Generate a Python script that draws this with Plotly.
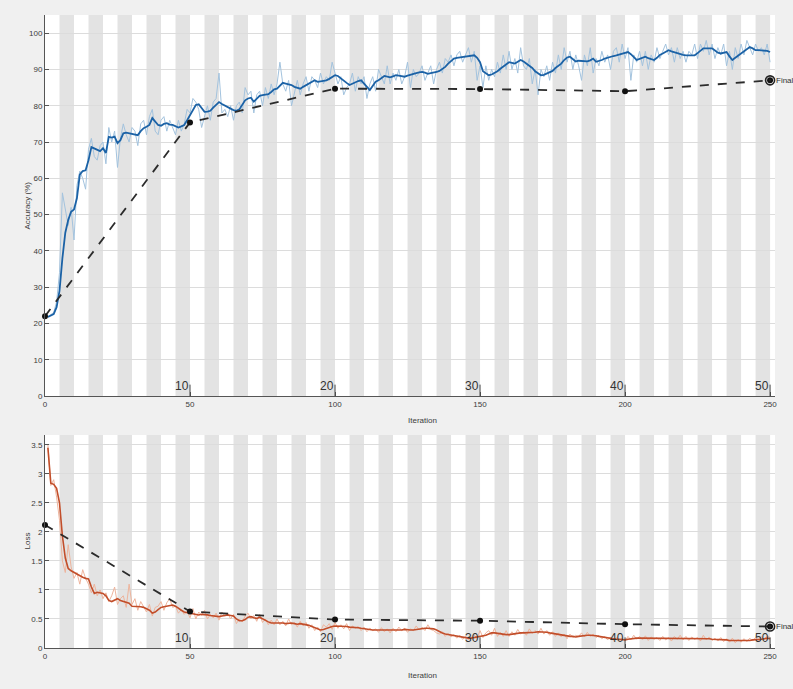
import plotly.graph_objects as go

# ---------------- data ----------------
iterations = list(range(1, 251))

acc_smooth = [
    21.8, 22.3, 22.6, 24.5, 29, 38, 45, 48.5, 50.8, 51.4,
    54.5, 61, 62, 62.2, 65, 68.6, 68.2, 67.7, 67.5, 68.3,
    67, 71.4, 71.2, 71.5, 69.7, 70.5, 72.4, 72.6, 72.4, 72.4,
    72.2, 71.9, 73, 73.8, 74.2, 74.7, 76.6, 75.5, 74.7, 74.5,
    75, 75.2, 74.8, 74.7, 74.4, 74, 74.3, 74.7, 76, 77.4,
    78.5, 80.2, 80.4, 79.2, 78.3, 78.4, 78.6, 79.5, 80.3, 81,
    80.5, 80, 79.7, 79.2, 78.8, 78.6, 79, 80.2, 81.5, 82,
    82.2, 81.1, 81.8, 82.7, 82.9, 83, 83.2, 83.8, 84.5, 84.7,
    85.5, 86.3, 86.1, 85.9, 85.7, 85.2, 84.9, 84.7, 85.2, 85.7,
    86.2, 86.7, 87, 86.6, 86.7, 86.9, 87, 87.4, 87.9, 88.4,
    88.2, 87.5, 87, 86.3, 85.7, 86.1, 86.6, 86.8, 87, 86.2,
    85.2, 84.3, 85.5, 86.6, 87, 87.6, 88.2, 88, 87.8, 88.1,
    88.4, 88.3, 88.1, 88, 88.3, 88.6, 88.8, 89, 89.2, 89.3,
    89.1, 88.8, 89, 89.1, 89.3, 89.6, 90.2, 90.7, 91.6, 92.4,
    93, 93.2, 93.3, 93.4, 93.5, 93.6, 93.7, 93.9, 93.2, 92,
    89.5, 88.9, 88.4, 88.6, 89, 89.5, 90.2, 90.8, 91.4, 92,
    91.8, 91.6, 92.1, 92.6, 92.2, 91.6, 91.2, 90.4, 89.5, 88.9,
    88.4, 88.5, 88.8, 89.2, 89.6, 90.4, 91, 91.6, 92.6, 93.3,
    93.5, 92.9, 92.2, 92.4, 92.3, 92.2, 92.2, 92.5, 93, 92.1,
    92.3, 92.6, 93, 93.3, 93.5, 93.7, 93.9, 94.1, 94.4, 94.6,
    94.8, 94.2, 93.5, 92.6, 92.9, 93.2, 93.5, 93.1, 92.8, 92.6,
    93.2, 94, 94.4, 94.9, 95.3, 95, 94.7, 94.4, 94.2, 94,
    93.9, 93.9, 93.9, 93.9, 94.5, 95.2, 95.8, 95.8, 95.8, 95.8,
    95.2, 94.6, 94.4, 94.6, 94.8, 93.6, 92.6, 93.2, 93.8, 94.4,
    95.2, 95.8, 96.2, 95.8, 95.3, 95.3, 95.3, 95.3, 95.1, 94.8,
]

acc_raw = [
    21.9, 22.5, 23, 26, 34, 56, 52, 47, 52, 43,
    58, 62, 60, 57, 68, 71, 66, 65, 69, 70,
    64, 74, 70, 73, 63, 71, 75, 72, 70, 74,
    73, 69, 75, 76, 72, 77, 79, 73, 72, 76,
    77, 73, 76, 74, 72, 76, 73, 75, 79, 78,
    82, 81, 79, 74, 77, 80, 76, 81, 82, 89,
    78, 79, 77, 80, 76, 80, 81, 78, 85, 83,
    84, 78, 83, 84, 80, 85, 82, 86, 83, 86,
    92, 86, 84, 87, 80, 84, 87, 83, 86, 88,
    84, 88, 87, 85, 89, 86, 88, 87, 92, 89,
    86, 88, 83, 85, 86, 89, 84, 88, 86, 88,
    82, 86, 88, 84, 90, 88, 86, 91, 86, 89,
    87, 90, 86, 88, 92, 85, 90, 88, 89, 91,
    87, 89, 91, 86, 90, 92, 89, 93, 92, 94,
    91, 94, 95, 92, 94, 96, 92, 95, 87, 91,
    85, 91, 87, 90, 88, 92, 89, 94, 90, 95,
    90, 93, 89, 96, 91, 90, 93, 86, 90, 83,
    90, 88, 91, 87, 92, 89, 94, 90, 96, 92,
    95, 90, 94, 91, 87, 94, 91, 96, 89, 93,
    91, 95, 92, 94, 90, 95, 96, 92, 97, 93,
    96, 87, 94, 92, 95, 91, 95, 90, 94, 92,
    96, 93, 95, 97, 94, 96, 92, 96, 93, 95,
    92, 95, 94, 97, 93, 97, 95, 98, 94, 97,
    93, 96, 94, 97, 91, 95, 90, 96, 93, 97,
    94, 98, 96, 94, 97, 95, 96, 94, 97, 92,
]

loss_smooth = [
    3.45, 2.84, 2.82, 2.75, 2.5, 1.93, 1.55, 1.37, 1.33, 1.3,
    1.27, 1.25, 1.22, 1.2, 1.19, 1.05, 0.94, 0.96, 0.95, 0.94,
    0.9, 0.82, 0.8, 0.83, 0.85, 0.82, 0.8, 0.78, 0.77, 0.72,
    0.72, 0.71, 0.71, 0.7, 0.68, 0.65, 0.6, 0.62, 0.66, 0.7,
    0.71, 0.72, 0.73, 0.74, 0.72, 0.68, 0.65, 0.62, 0.61, 0.6,
    0.59, 0.58, 0.57, 0.58, 0.58, 0.57, 0.56, 0.55, 0.55, 0.54,
    0.55, 0.56, 0.57, 0.56, 0.55, 0.5, 0.47, 0.47, 0.49, 0.53,
    0.54, 0.52, 0.51, 0.53, 0.5, 0.47, 0.45, 0.43, 0.43, 0.44,
    0.44, 0.43, 0.42, 0.43, 0.43, 0.42, 0.41, 0.42, 0.41, 0.41,
    0.39, 0.37, 0.35, 0.33, 0.31, 0.32, 0.34, 0.36, 0.37, 0.38,
    0.38, 0.38, 0.37, 0.37, 0.36, 0.36, 0.36, 0.35, 0.34, 0.33,
    0.32, 0.31, 0.31, 0.31, 0.31, 0.31, 0.3, 0.3, 0.3, 0.3,
    0.3, 0.31, 0.31, 0.32, 0.31, 0.31, 0.31, 0.32, 0.33, 0.33,
    0.34, 0.34, 0.34, 0.33, 0.31, 0.28, 0.26, 0.24, 0.23, 0.22,
    0.21, 0.2, 0.19, 0.18, 0.17, 0.17, 0.17, 0.18, 0.19, 0.2,
    0.2, 0.22, 0.24, 0.26, 0.26, 0.25, 0.24, 0.23, 0.23, 0.23,
    0.24, 0.25, 0.25, 0.26, 0.26, 0.26, 0.26, 0.27, 0.27, 0.28,
    0.28, 0.28, 0.27, 0.26, 0.25, 0.24, 0.23, 0.22, 0.21, 0.2,
    0.2, 0.2, 0.19, 0.2, 0.21, 0.22, 0.22, 0.22, 0.22, 0.21,
    0.2, 0.19, 0.18, 0.17, 0.17, 0.16, 0.15, 0.15, 0.14, 0.14,
    0.15, 0.16, 0.17, 0.17, 0.17, 0.17, 0.17, 0.17, 0.16, 0.16,
    0.16, 0.16, 0.16, 0.16, 0.16, 0.16, 0.16, 0.17, 0.17, 0.17,
    0.17, 0.17, 0.17, 0.17, 0.16, 0.16, 0.16, 0.16, 0.16, 0.15,
    0.15, 0.15, 0.14, 0.14, 0.14, 0.13, 0.13, 0.12, 0.12, 0.12,
    0.12, 0.13, 0.13, 0.14, 0.14, 0.14, 0.15, 0.16, 0.17, 0.16,
]

loss_raw = [
    3.5, 2.8, 2.9, 2.6, 2.2, 1.5, 1.3, 1.78, 1.4, 1.2,
    1.3, 1.1, 1.35, 1.2, 1.1, 0.95, 1.1, 0.9, 1.0, 0.85,
    0.95, 0.8, 0.9, 1.05, 0.75, 0.85, 0.9, 0.7, 1.1, 0.75,
    0.85, 0.65, 0.8, 0.7, 0.62, 0.75, 0.55, 0.7, 0.72, 0.8,
    0.65, 0.78, 0.85, 0.7, 0.72, 0.6, 0.66, 0.58, 0.63, 0.52,
    0.68, 0.5, 0.62, 0.56, 0.65, 0.5, 0.58, 0.52, 0.6, 0.48,
    0.62, 0.55, 0.6, 0.5, 0.58, 0.42, 0.5, 0.45, 0.55, 0.6,
    0.5, 0.56, 0.46, 0.58, 0.44, 0.5, 0.4, 0.48, 0.4, 0.5,
    0.4, 0.46, 0.38, 0.5, 0.4, 0.44, 0.36, 0.46, 0.38, 0.44,
    0.34, 0.4, 0.3, 0.36, 0.28, 0.4, 0.36, 0.42, 0.32, 0.44,
    0.34, 0.4, 0.33, 0.42, 0.3, 0.38, 0.34, 0.37, 0.3, 0.36,
    0.28, 0.34, 0.3, 0.33, 0.27, 0.35, 0.28, 0.33, 0.26, 0.34,
    0.28, 0.36, 0.3, 0.34, 0.27, 0.33, 0.3, 0.38, 0.31, 0.36,
    0.3, 0.4, 0.32, 0.3, 0.26, 0.24, 0.28, 0.2, 0.25, 0.19,
    0.23, 0.17, 0.22, 0.15, 0.2, 0.14, 0.19, 0.22, 0.17, 0.3,
    0.18, 0.26, 0.3, 0.22, 0.34, 0.2, 0.27, 0.2, 0.3, 0.2,
    0.28, 0.22, 0.32, 0.24, 0.28, 0.22, 0.33, 0.25, 0.3, 0.24,
    0.34, 0.24, 0.3, 0.22, 0.28, 0.2, 0.26, 0.19, 0.24, 0.16,
    0.24, 0.18, 0.22, 0.2, 0.26, 0.19, 0.27, 0.2, 0.24, 0.18,
    0.22, 0.16, 0.2, 0.14, 0.19, 0.13, 0.18, 0.12, 0.17, 0.12,
    0.2, 0.14, 0.22, 0.15, 0.2, 0.14, 0.21, 0.13, 0.19, 0.15,
    0.18, 0.13, 0.2, 0.14, 0.18, 0.12, 0.2, 0.15, 0.22, 0.14,
    0.2, 0.13, 0.19, 0.15, 0.18, 0.12, 0.22, 0.14, 0.19, 0.13,
    0.17, 0.12, 0.18, 0.11, 0.16, 0.1, 0.17, 0.09, 0.15, 0.1,
    0.16, 0.11, 0.17, 0.12, 0.18, 0.13, 0.2, 0.14, 0.21, 0.18,
]

val_iter = [0, 50, 100, 150, 200, 250]
val_acc = [22, 75.4, 84.7, 84.6, 84.0, 87.0]
val_loss = [2.12, 0.63, 0.49, 0.47, 0.41, 0.37]

epoch_labels = [10, 20, 30, 40, 50]
iters_per_epoch = 5
num_epochs = 50
final_label = "Final"

x_ticks = [0, 50, 100, 150, 200, 250]
acc_ticks = [0, 10, 20, 30, 40, 50, 60, 70, 80, 90, 100]
loss_ticks = [0, 0.5, 1, 1.5, 2, 2.5, 3, 3.5]

# ---------------- styling ----------------
FONT = "Liberation Sans"
TICK_COLOR = "#3c3c3c"
C_ACC = "#1b62a6"
C_ACC_RAW = "#a3c3de"
C_LOSS = "#c24e2a"
C_LOSS_RAW = "#eeb49c"
C_VAL = "#2b2b2b"
STRIPE = "#e3e3e3"
BG = "#f0f0f0"

fig = go.Figure()

# training accuracy
fig.add_trace(go.Scatter(x=iterations, y=acc_raw, mode="lines",
                         line=dict(color=C_ACC_RAW, width=1), xaxis="x", yaxis="y",
                         showlegend=False, hoverinfo="skip"))
fig.add_trace(go.Scatter(x=iterations, y=acc_smooth, mode="lines",
                         line=dict(color=C_ACC, width=1.8), xaxis="x", yaxis="y",
                         showlegend=False))
fig.add_trace(go.Scatter(x=val_iter, y=val_acc, mode="lines+markers",
                         line=dict(color=C_VAL, width=1.8, dash="dash"),
                         marker=dict(color="#111111", size=6), cliponaxis=False,
                         xaxis="x", yaxis="y", showlegend=False))
fig.add_trace(go.Scatter(x=[val_iter[-1]], y=[val_acc[-1]], mode="markers",
                         marker=dict(symbol="circle-open-dot", color="#222222", size=9,
                                     line=dict(width=1.6, color="#222222")), cliponaxis=False,
                         xaxis="x", yaxis="y", showlegend=False))

# training loss
fig.add_trace(go.Scatter(x=iterations, y=loss_raw, mode="lines",
                         line=dict(color=C_LOSS_RAW, width=1), xaxis="x2", yaxis="y2",
                         showlegend=False, hoverinfo="skip"))
fig.add_trace(go.Scatter(x=iterations, y=loss_smooth, mode="lines",
                         line=dict(color=C_LOSS, width=1.6), xaxis="x2", yaxis="y2",
                         showlegend=False))
fig.add_trace(go.Scatter(x=val_iter, y=val_loss, mode="lines+markers",
                         line=dict(color=C_VAL, width=1.8, dash="dash"),
                         marker=dict(color="#111111", size=6), cliponaxis=False,
                         xaxis="x2", yaxis="y2", showlegend=False))
fig.add_trace(go.Scatter(x=[val_iter[-1]], y=[val_loss[-1]], mode="markers",
                         marker=dict(symbol="circle-open-dot", color="#222222", size=9,
                                     line=dict(width=1.6, color="#222222")), cliponaxis=False,
                         xaxis="x2", yaxis="y2", showlegend=False))

shapes = []
annotations = []
for xr, yr in (("x", "y domain"), ("x2", "y2 domain")):
    for k in range(1, num_epochs // 2 + 1):
        shapes.append(dict(type="rect", xref=xr, yref=yr,
                           x0=iters_per_epoch * (2 * k - 1), x1=iters_per_epoch * 2 * k,
                           y0=0, y1=1, fillcolor=STRIPE, line=dict(width=0), layer="below"))

for xr, yd, h in (("x", "y domain", 0.03), ("x2", "y2 domain", 0.05)):
    for e in epoch_labels:
        it = e * iters_per_epoch
        shapes.append(dict(type="line", xref=xr, yref=yd, x0=it, x1=it, y0=0, y1=h,
                           line=dict(color="#444444", width=1)))
        annotations.append(dict(x=it, y=0, xref=xr, yref=yd, text=str(e), showarrow=False,
                                xanchor="right", yanchor="bottom", xshift=1, yshift=1,
                                font=dict(family=FONT, size=12, color="#333333")))

annotations.append(dict(x=val_iter[-1], y=val_acc[-1], xref="x", yref="y", text=final_label,
                        showarrow=False, xanchor="left", xshift=4,
                        font=dict(family=FONT, size=8, color="#333333")))
annotations.append(dict(x=val_iter[-1], y=val_loss[-1], xref="x2", yref="y2", text=final_label,
                        showarrow=False, xanchor="left", xshift=4,
                        font=dict(family=FONT, size=8, color="#333333")))

# axis titles placed as annotations
title_font = dict(family=FONT, size=8, color=TICK_COLOR)
annotations += [
    dict(text="Accuracy (%)", textangle=-90, xref="paper", yref="y domain", x=0, y=0.5,
         xanchor="center", yanchor="middle", xshift=-17, showarrow=False, font=title_font),
    dict(text="Loss", textangle=-90, xref="paper", yref="y2 domain", x=0, y=0.5,
         xanchor="center", yanchor="middle", xshift=-18, showarrow=False, font=title_font),
    dict(text="Iteration", xref="x", yref="y domain", x=130, y=0, yshift=-24,
         xanchor="center", yanchor="middle", showarrow=False, font=title_font),
    dict(text="Iteration", xref="x2", yref="y2 domain", x=130, y=0, yshift=-27,
         xanchor="center", yanchor="middle", showarrow=False, font=title_font),
]

axis_common = dict(showline=True, linecolor="#555555", linewidth=1, zeroline=False,
                   ticks="inside", ticklen=4, tickcolor="#555555",
                   tickfont=dict(family=FONT, size=8, color=TICK_COLOR))

fig.update_layout(
    width=793, height=689,
    paper_bgcolor=BG, plot_bgcolor="#ffffff",
    margin=dict(l=45, r=18, t=15, b=41),
    shapes=shapes, annotations=annotations,
    xaxis=dict(domain=[0, 1], anchor="y", range=[0, 251.7], tickvals=x_ticks,
               showgrid=False, **axis_common),
    yaxis=dict(domain=[0.398, 1], anchor="x", range=[0, 105], tickvals=acc_ticks,
               showgrid=True, gridcolor="#dcdcdc", gridwidth=1, **axis_common),
    xaxis2=dict(domain=[0, 1], anchor="y2", range=[0, 251.7], tickvals=x_ticks,
                showgrid=False, **axis_common),
    yaxis2=dict(domain=[0, 0.3365], anchor="x2", range=[0, 3.67], tickvals=loss_ticks,
                showgrid=True, gridcolor="#dcdcdc", gridwidth=1, **axis_common),
    hovermode=False,
)

fig.write_html(
    "out.html",
    config={"displayModeBar": False},
    post_script="document.body.style.margin='0';document.body.style.background='%s';" % BG,
)
